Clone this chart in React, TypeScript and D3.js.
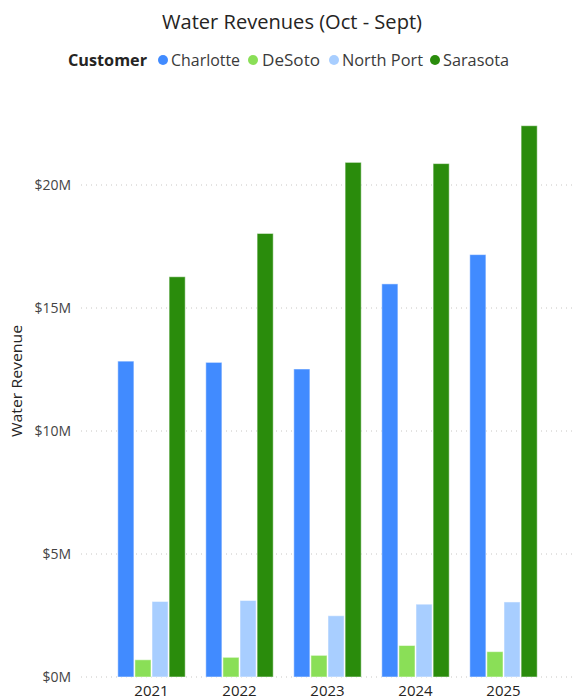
import React from "react";
import * as d3 from "d3";

const years = ["2021", "2022", "2023", "2024", "2025"];
const customers = ["Charlotte", "DeSoto", "North Port", "Sarasota"];
const charlotte = [12.84, 12.79, 12.52, 15.98, 17.17];
const desoto = [0.7, 0.8, 0.88, 1.28, 1.03];
const northPort = [3.07, 3.11, 2.49, 2.96, 3.05];
const sarasota = [16.27, 18.03, 20.92, 20.87, 22.41];
const yTicks = [0, 5, 10, 15, 20];
const colors = ["#418BFF", "#8ADF57", "#A8CEFF", "#2A8C0C"];

const seriesValues = [charlotte, desoto, northPort, sarasota];

export default function App() {
  const W = 574;
  const H = 700;
  const font = "'Segoe UI', 'Open Sans', sans-serif";

  const x = d3
    .scaleBand<string>()
    .domain(years)
    .range([107.5, 547.5])
    .paddingInner(0.2227)
    .paddingOuter(0.11135);
  const xi = d3.scaleBand<string>().domain(customers).range([0, x.bandwidth()]);
  const y = d3.scaleLinear().domain([0, 20]).range([677, 185]);

  const legendItems = [
    { name: customers[0], dot: 163, text: 171, w: 69 },
    { name: customers[1], dot: 253, text: 262, w: 58 },
    { name: customers[2], dot: 334, text: 342, w: 81 },
    { name: customers[3], dot: 435, text: 443, w: 66 },
  ];

  return (
    <svg
      width={W}
      height={H}
      style={{ position: "absolute", left: 0, top: 0, background: "#fff" }}
      fontFamily={font}
    >
      <text
        x={162}
        y={29}
        fontSize={20}
        fill="#252423"
        textLength={260}
        lengthAdjust="spacingAndGlyphs"
      >
        Water Revenues (Oct - Sept)
      </text>
      <text
        x={68}
        y={66}
        fontSize={16}
        fontWeight="bold"
        fill="#252423"
        textLength={79}
        lengthAdjust="spacingAndGlyphs"
      >
        Customer
      </text>
      {legendItems.map((l, i) => (
        <g key={l.name}>
          <circle cx={l.dot} cy={60} r={5} fill={colors[i]} />
          <text
            x={l.text}
            y={66}
            fontSize={16}
            fill="#3A3A3A"
            textLength={l.w}
            lengthAdjust="spacingAndGlyphs"
          >
            {l.name}
          </text>
        </g>
      ))}

      {yTicks.map((t) => (
        <g key={t}>
          <line
            x1={81}
            x2={W}
            y1={y(t)}
            y2={y(t)}
            stroke="#C8C6C4"
            strokeWidth={1}
            strokeDasharray="1 4"
          />
          <text
            x={71}
            y={y(t)}
            dy="0.35em"
            textAnchor="end"
            fontSize={14}
            fill="#444444"
          >
            {`$${t}M`}
          </text>
        </g>
      ))}

      <text
        transform={`translate(22, 381) rotate(-90)`}
        textAnchor="middle"
        fontSize={14}
        fill="#252423"
        textLength={112}
        lengthAdjust="spacingAndGlyphs"
      >
        Water Revenue
      </text>

      {years.map((yr, yi) => (
        <g key={yr} transform={`translate(${x(yr)},0)`}>
          {customers.map((c, ci) => {
            const v = seriesValues[ci][yi];
            return (
              <rect
                key={c}
                x={xi(c)! + 0.5}
                y={y(v)}
                width={xi.bandwidth() - 1}
                height={y(0) - y(v)}
                fill={colors[ci]}
                stroke="#ffffff"
                strokeOpacity={0.5}
                strokeWidth={1}
              />
            );
          })}
          <text
            x={x.bandwidth() / 2}
            y={696}
            textAnchor="middle"
            fontSize={15}
            fill="#252423"
          >
            {yr}
          </text>
        </g>
      ))}
    </svg>
  );
}
